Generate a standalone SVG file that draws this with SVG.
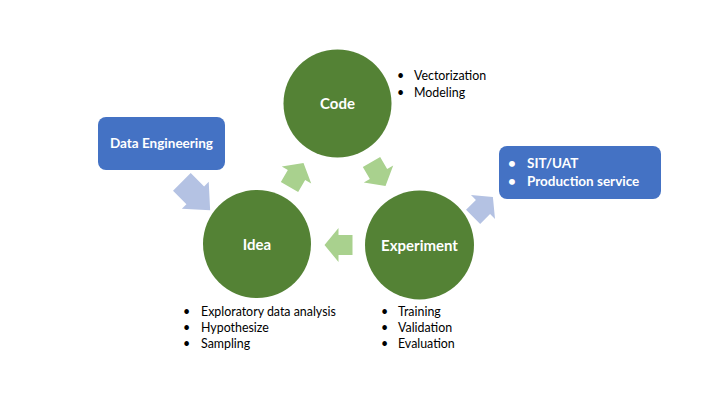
<svg xmlns="http://www.w3.org/2000/svg" width="720" height="405" viewBox="0 0 720 405">
<style>
.circ{fill:#548235}
.box{fill:#4472C4}
.lbl{font-family:Lato,"Open Sans","Liberation Sans",sans-serif;font-size:15px;font-weight:bold;fill:#fff;text-anchor:middle}
.wt{font-family:Lato,"Open Sans","Liberation Sans",sans-serif;font-size:13.5px;font-weight:bold;fill:#fff}
.bl{font-family:Lato,"Open Sans","Liberation Sans",sans-serif;font-size:12.4px;fill:#000}
.ga{fill:#A9D18E}
.ba{fill:#B4C2E3}
</style>
<defs>
<polygon id="arr" points="-14,-10 0,-10 0,-17 14,0 0,17 0,10 -14,10"/>
<polygon id="arrL" points="-20,-12.5 -1,-12.5 -1,-19 20,0 -1,19 -1,12.5 -20,12.5"/>
</defs>
<rect width="720" height="405" fill="#fff"/>
<g id="connectors">
<use href="#arr" class="ga" transform="translate(296.5,175) rotate(-60)"/>
<use href="#arr" class="ga" transform="translate(378.5,174) rotate(60)"/>
<use href="#arr" class="ga" transform="translate(338.5,245) rotate(180)"/>
<use href="#arrL" class="ba" transform="translate(196,196) rotate(45)"/>
<use href="#arr" class="ba" transform="translate(483,207) rotate(-45)"/>
</g>
<g id="data-engineering">
<rect class="box" x="98" y="117" width="127" height="53" rx="8"/>
<text class="wt" x="161.5" y="148" text-anchor="middle">Data Engineering</text>
</g>
<g id="code">
<circle class="circ" cx="337.5" cy="103.5" r="54"/>
<text class="lbl" x="337.5" y="109">Code</text>
</g>
<g id="code-notes">
<text class="bl" x="397" y="80">•</text><text class="bl" x="414" y="80">Vectorization</text>
<text class="bl" x="397" y="97">•</text><text class="bl" x="414" y="97">Modeling</text>
</g>
<g id="idea">
<circle class="circ" cx="257" cy="244" r="54"/>
<text class="lbl" x="257" y="249.5">Idea</text>
</g>
<g id="idea-notes">
<text class="bl" x="183" y="316">•</text><text class="bl" x="201" y="316">Exploratory data analysis</text>
<text class="bl" x="183" y="332">•</text><text class="bl" x="201" y="332">Hypothesize</text>
<text class="bl" x="183" y="348">•</text><text class="bl" x="201" y="348">Sampling</text>
</g>
<g id="experiment">
<circle class="circ" cx="419.5" cy="245" r="54.5"/>
<text class="lbl" x="419.5" y="250.5">Experiment</text>
</g>
<g id="experiment-notes">
<text class="bl" x="381" y="316">•</text><text class="bl" x="398" y="316">Training</text>
<text class="bl" x="381" y="332">•</text><text class="bl" x="398" y="332">Validation</text>
<text class="bl" x="381" y="348">•</text><text class="bl" x="398" y="348">Evaluation</text>
</g>
<g id="deployment">
<rect class="box" x="499" y="146" width="162" height="53" rx="8"/>
<text class="wt" x="508" y="168">•</text><text class="wt" x="527" y="168">SIT/UAT</text>
<text class="wt" x="508" y="186">•</text><text class="wt" x="527" y="186">Production service</text>
</g>
</svg>
